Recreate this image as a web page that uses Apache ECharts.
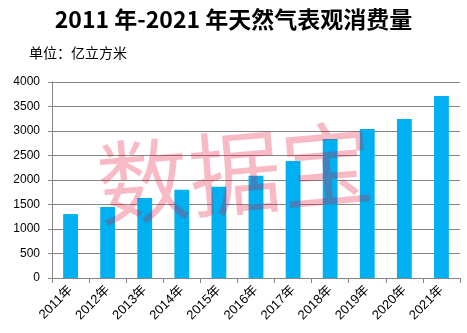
<!DOCTYPE html>
<html>
<head>
<meta charset="utf-8">
<script src="https://cdn.jsdelivr.net/npm/echarts@6/dist/echarts.min.js"></script>
<style>html,body{margin:0;padding:0;background:#fff}#c{width:467px;height:333px}</style>
</head>
<body>
<div id="c"></div>
<script>
var titleText = '2011 年-2021 年天然气表观消费量';
var unitText = '单位：亿立方米';
var watermarkText = '数据宝';
var categories = ['2011年','2012年','2013年','2014年','2015年','2016年','2017年','2018年','2019年','2020年','2021年'];
var values = [1305, 1450, 1635, 1800, 1860, 2085, 2390, 2835, 3040, 3245, 3715];
var yTicks = [0, 500, 1000, 1500, 2000, 2500, 3000, 3500, 4000];

var chart = echarts.init(document.getElementById('c'), null, {renderer: 'canvas'});
chart.setOption({
  animation: false,
  backgroundColor: '#fff',
  title: [{
    text: titleText,
    left: 'center',
    top: 3,
    textStyle: {fontFamily: '"Noto Sans CJK SC", sans-serif', fontSize: 23, fontWeight: 'bold', color: '#000'}
  }, {
    text: unitText,
    left: 24,
    top: 41,
    textStyle: {fontFamily: '"Noto Sans CJK SC", sans-serif', fontSize: 14, fontWeight: 'normal', color: '#000'}
  }],
  grid: {left: 52, right: 7, top: 82, bottom: 55, containLabel: false},
  xAxis: {
    type: 'category',
    data: categories,
    axisLine: {show: true, lineStyle: {color: '#868686', width: 1}},
    axisTick: {show: true, alignWithLabel: false, length: 5, lineStyle: {color: '#868686'}},
    axisLabel: {rotate: 45, fontSize: 13, color: '#000', margin: 10, fontFamily: '"Liberation Sans", "Noto Sans CJK SC", sans-serif'}
  },
  yAxis: {
    type: 'value',
    min: yTicks[0],
    max: yTicks[yTicks.length - 1],
    interval: 500,
    axisLine: {show: true, lineStyle: {color: '#868686', width: 1}},
    axisTick: {show: true, length: 4, lineStyle: {color: '#868686'}},
    axisLabel: {fontSize: 12, color: '#000', margin: 12, fontFamily: '"Liberation Sans", sans-serif', formatter: function (v) { return String(v); }},
    splitLine: {show: true, lineStyle: {color: '#868686', width: 1}}
  },
  series: [{
    type: 'bar',
    data: values,
    barWidth: '40%',
    itemStyle: {color: '#00B0F0'}
  }],
  graphic: [{
    type: 'text',
    z: 100,
    x: 235,
    y: 173,
    rotation: 5 * Math.PI / 180,
    style: {
      text: watermarkText,
      fontSize: 92,
      fontFamily: '"Noto Sans CJK SC", sans-serif',
      fontWeight: 'normal',
      fill: 'rgba(230,10,50,0.28)',
      align: 'center',
      verticalAlign: 'middle'
    }
  }]
});
</script>
</body>
</html>
